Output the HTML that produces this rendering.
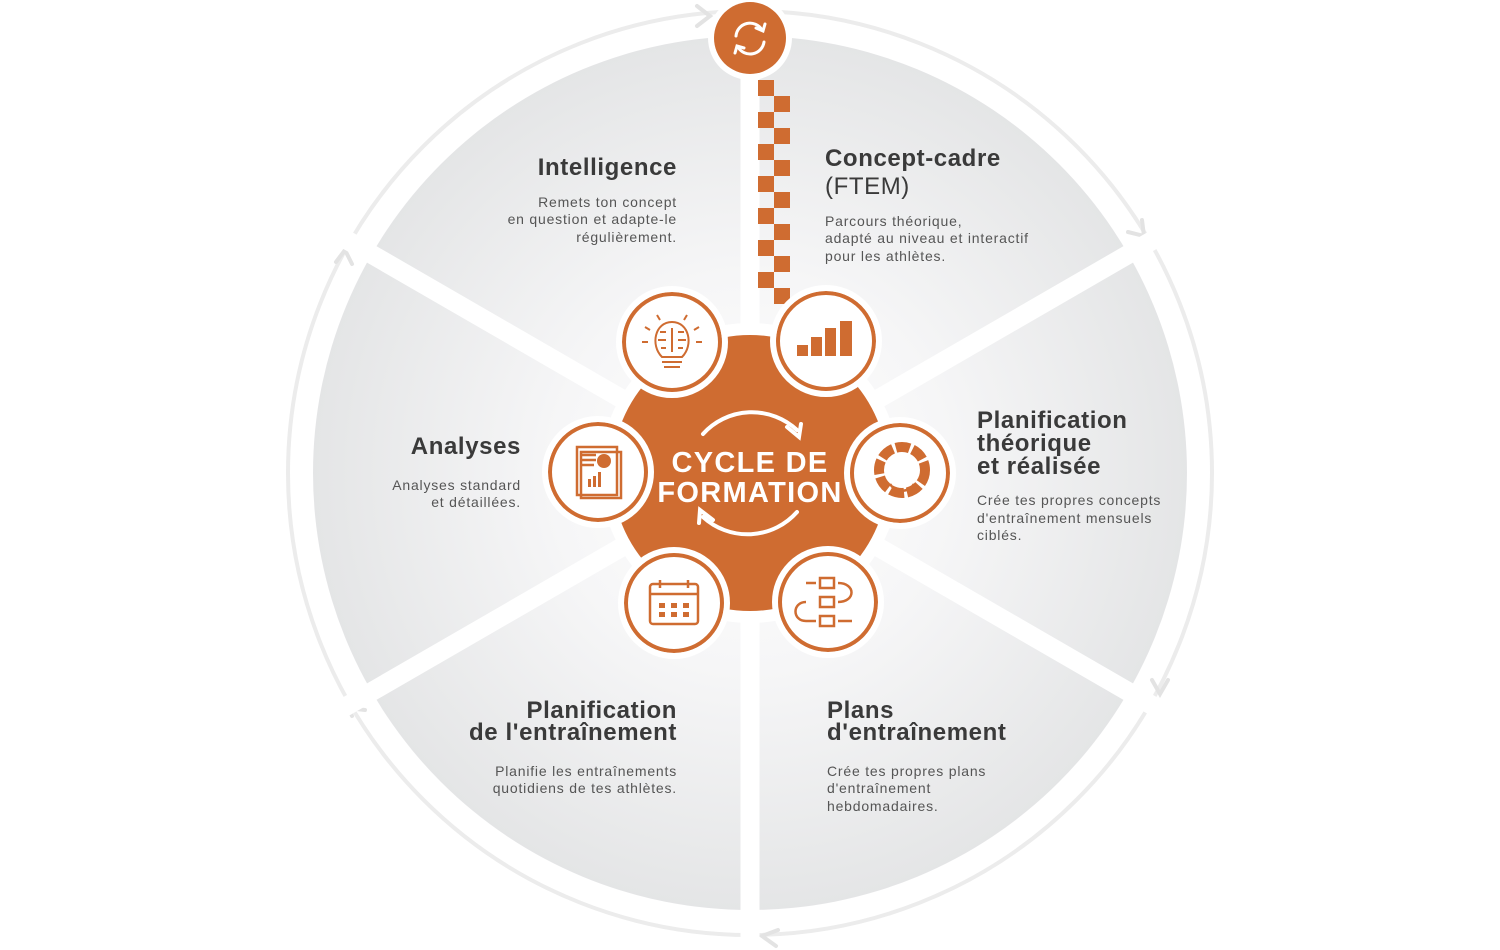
<!DOCTYPE html>
<html><head><meta charset="utf-8"><style>
body{margin:0;background:#fff;}
svg{display:block}
text{font-family:"Liberation Sans",sans-serif;}
.t{font-size:24px;font-weight:bold;fill:#3a3a3a;letter-spacing:0.6px}
.d{font-size:14px;fill:#555;letter-spacing:0.8px}
</style></head><body>
<svg width="1500" height="950" viewBox="0 0 1500 950" xmlns="http://www.w3.org/2000/svg">
<defs>
<radialGradient id="g" cx="750" cy="473" r="440" gradientUnits="userSpaceOnUse">
<stop offset="0" stop-color="#ffffff"/><stop offset="0.45" stop-color="#f6f6f7"/><stop offset="1" stop-color="#e4e5e6"/>
</radialGradient>
</defs>
<circle cx="750" cy="473" r="462" fill="none" stroke="#ececec" stroke-width="4"/>
<g fill="none" stroke="#e3e3e3" stroke-width="4" stroke-linecap="round">
<polyline points="697,6 710,16 697,26"/>
<polyline points="1128,232 1144,236 1142,220"/>
<polyline points="1152,680 1160,694 1168,680"/>
<polyline points="778,930 762,936 776,946"/>
<polyline points="352,716 348,708 365,710"/>
<polyline points="336,262 345,250 352,264"/>
</g>
<circle cx="750" cy="473" r="437" fill="url(#g)"/>
<g stroke="#fff" stroke-width="19">
<line x1="750" y1="0" x2="750" y2="950"/>
<line x1="750" y1="473" x2="1250" y2="184"/>
<line x1="750" y1="473" x2="250" y2="762"/>
<line x1="750" y1="473" x2="250" y2="184"/>
<line x1="750" y1="473" x2="1250" y2="762"/>
</g>
<g fill="#cf6c31">
<rect x="758" y="80" width="16" height="16"/><rect x="774" y="96" width="16" height="16"/>
<rect x="758" y="112" width="16" height="16"/><rect x="774" y="128" width="16" height="16"/>
<rect x="758" y="144" width="16" height="16"/><rect x="774" y="160" width="16" height="16"/>
<rect x="758" y="176" width="16" height="16"/><rect x="774" y="192" width="16" height="16"/>
<rect x="758" y="208" width="16" height="16"/><rect x="774" y="224" width="16" height="16"/>
<rect x="758" y="240" width="16" height="16"/><rect x="774" y="256" width="16" height="16"/>
<rect x="758" y="272" width="16" height="16"/><rect x="774" y="288" width="16" height="16"/>
</g>
<circle cx="750" cy="38" r="42" fill="#fff"/>
<circle cx="750" cy="38" r="36" fill="#cf6c31"/>
<g fill="none" stroke="#fff" stroke-width="3" stroke-linecap="round">
<path d="M736,36 A14,14 0 0 1 762,30"/><polyline points="756,28 763,31 765,24"/>
<path d="M764,42 A14,14 0 0 1 738,47"/><polyline points="744,48 737,46 735,53"/>
</g>
<circle cx="750" cy="473" r="150" fill="#fff"/>
<circle cx="750" cy="473" r="138" fill="#cf6c31"/>
<g fill="none" stroke="#fff" stroke-width="4" stroke-linecap="round">
<path d="M703,434 A66,66 0 0 1 797,430"/><polyline points="787,427 799,437 801,424"/>
<path d="M797,512 A66,66 0 0 1 703,517"/><polyline points="713,520 700,510 699,523"/>
</g>
<text x="750" y="472" text-anchor="middle" font-size="29" font-weight="bold" fill="#fff" letter-spacing="1.3">CYCLE DE</text>
<text x="750" y="502" text-anchor="middle" font-size="29" font-weight="bold" fill="#fff" letter-spacing="1.3">FORMATION</text>
<g fill="#fff" stroke="#cf6c31" stroke-width="4">
<circle cx="672" cy="342" r="48"/><circle cx="826" cy="341" r="48"/>
<circle cx="900" cy="473" r="48"/><circle cx="828" cy="602" r="48"/>
<circle cx="674" cy="603" r="48"/><circle cx="598" cy="472" r="48"/>
</g>
<g fill="none" stroke="#fff" stroke-width="6">
<circle cx="672" cy="342" r="53"/><circle cx="826" cy="341" r="53"/>
<circle cx="900" cy="473" r="53"/><circle cx="828" cy="602" r="53"/>
<circle cx="674" cy="603" r="53"/><circle cx="598" cy="472" r="53"/>
</g>
<g fill="#cf6c31">
<rect x="797" y="345" width="11" height="11"/><rect x="811" y="337" width="11" height="19"/>
<rect x="825" y="328" width="11" height="28"/><rect x="840" y="321" width="12" height="35"/>
</g>
<g fill="none" stroke="#cf6c31" stroke-width="2">
<path d="M662,357 C650,345 655,322 672,322 C689,322 694,345 682,357 Z"/>
<line x1="662" y1="362" x2="682" y2="362"/><line x1="664" y1="367" x2="680" y2="367"/>
<line x1="672" y1="328" x2="672" y2="352"/><path d="M666,332 h-6 M666,340 h-8 M666,348 h-5 M678,332 h6 M678,340 h8 M678,348 h5"/>
<path d="M650,330 l-5,-3 M694,330 l5,-3 M648,342 h-6 M696,342 h6 M660,320 l-3,-5 M684,320 l3,-5"/>
</g>
<g fill="none" stroke="#cf6c31" stroke-width="10">
<circle cx="902" cy="470" r="23" stroke-dasharray="14 3"/>
</g>
<g fill="none" stroke="#cf6c31" stroke-width="2.5">
<path d="M890,484 A14,14 0 0 0 914,484"/>
<rect x="650" y="584" width="48" height="40" rx="3"/><line x1="650" y1="594" x2="698" y2="594"/>
<line x1="660" y1="580" x2="660" y2="588"/><line x1="688" y1="580" x2="688" y2="588"/>
<rect x="577" y="447" width="40" height="48"/><rect x="581" y="452" width="40" height="46"/>
<path d="M582,455 h14 M582,460 h14 M582,465 h12"/>
<rect x="820" y="578" width="14" height="10"/><rect x="820" y="597" width="14" height="10"/><rect x="820" y="616" width="14" height="10"/>
<path d="M806,583 h10 M838,583 c18,0 18,19 0,19 M806,602 c-14,0 -14,19 0,19 h10 M838,621 h14"/>
</g>
<g fill="#cf6c31">
<rect x="659" y="603" width="6" height="5"/><rect x="671" y="603" width="6" height="5"/><rect x="683" y="603" width="6" height="5"/>
<rect x="659" y="612" width="6" height="5"/><rect x="671" y="612" width="6" height="5"/><rect x="683" y="612" width="6" height="5"/>
<rect x="588" y="479" width="3" height="8"/><rect x="593" y="476" width="3" height="11"/><rect x="598" y="472" width="3" height="15"/>
<circle cx="604" cy="461" r="7"/>
</g>
<text class="t" x="677" y="175" text-anchor="end">Intelligence</text>
<text class="d" x="677" y="207" text-anchor="end">Remets ton concept</text>
<text class="d" x="677" y="224" text-anchor="end">en question et adapte-le</text>
<text class="d" x="677" y="242" text-anchor="end">régulièrement.</text>
<text class="t" x="825" y="166">Concept-cadre</text>
<text x="825" y="194" font-size="24" fill="#3a3a3a" letter-spacing="0.6">(FTEM)</text>
<text class="d" x="825" y="226">Parcours théorique,</text>
<text class="d" x="825" y="243">adapté au niveau et interactif</text>
<text class="d" x="825" y="261">pour les athlètes.</text>
<text class="t" x="977" y="428">Planification</text>
<text class="t" x="977" y="451">théorique</text>
<text class="t" x="977" y="474">et réalisée</text>
<text class="d" x="977" y="505">Crée tes propres concepts</text>
<text class="d" x="977" y="523">d'entraînement mensuels</text>
<text class="d" x="977" y="540">ciblés.</text>
<text class="t" x="827" y="718">Plans</text>
<text class="t" x="827" y="740">d'entraînement</text>
<text class="d" x="827" y="776">Crée tes propres plans</text>
<text class="d" x="827" y="793">d'entraînement</text>
<text class="d" x="827" y="811">hebdomadaires.</text>
<text class="t" x="677" y="718" text-anchor="end">Planification</text>
<text class="t" x="677" y="740" text-anchor="end">de l'entraînement</text>
<text class="d" x="677" y="776" text-anchor="end">Planifie les entraînements</text>
<text class="d" x="677" y="793" text-anchor="end">quotidiens de tes athlètes.</text>
<text class="t" x="521" y="454" text-anchor="end">Analyses</text>
<text class="d" x="521" y="490" text-anchor="end">Analyses standard</text>
<text class="d" x="521" y="507" text-anchor="end">et détaillées.</text>
</svg>
</body></html>
